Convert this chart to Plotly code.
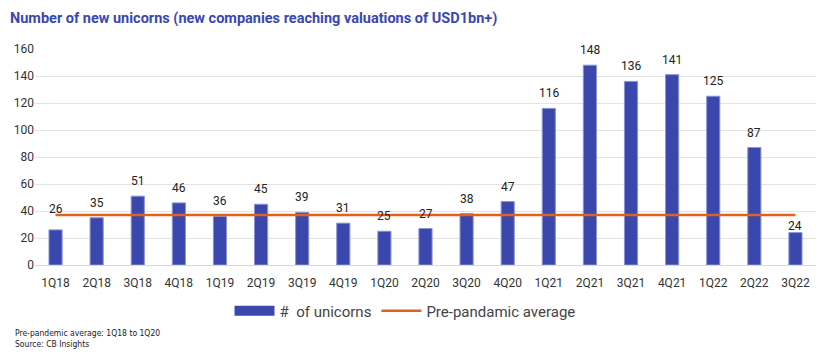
import plotly.graph_objects as go

quarters = ["1Q18", "2Q18", "3Q18", "4Q18", "1Q19", "2Q19", "3Q19", "4Q19", "1Q20", "2Q20",
            "3Q20", "4Q20", "1Q21", "2Q21", "3Q21", "4Q21", "1Q22", "2Q22", "3Q22"]
unicorns = [26, 35, 51, 46, 36, 45, 39, 31, 25, 27, 38, 47, 116, 148, 136, 141, 125, 87, 24]
pre_pandemic_avg = [37] * len(quarters)

# label nudges (styling only, pixels)
label_nudge = {"1Q18": 6, "3Q22": -8}

W, H = 831, 361
L, R, T, B = 35, 15, 49, 96
pw, ph = W - L - R, H - T - B
BAR_COLOR = "#3a48ad"

fig = go.Figure()
fig.add_trace(go.Bar(
    x=quarters, y=unicorns, name="#  of unicorns", showlegend=False,
    marker=dict(color=BAR_COLOR, line=dict(color="#8a93d6", width=1)),
))
# legend swatch for the bars (wide block like the original)
fig.add_trace(go.Scatter(
    x=[quarters[0]], y=[None], name="#  of unicorns", mode="lines",
    line=dict(color=BAR_COLOR, width=10), hoverinfo="skip",
))
fig.add_trace(go.Scatter(
    x=quarters, y=pre_pandemic_avg, name="Pre-pandamic average", mode="lines",
    line=dict(color="#e0621f", width=2.5),
))

annotations = [
    dict(x=q, y=v, text=str(v), xref="x", yref="y", showarrow=False,
         yanchor="bottom", yshift=6 + label_nudge.get(q, 0),
         font=dict(family="Roboto", size=12, color="#222222"))
    for q, v in zip(quarters, unicorns)
]
for i, line in enumerate(["Pre-pandemic average: 1Q18 to 1Q20", "Source: CB Insights"]):
    annotations.append(
        dict(text=line, xref="paper", yref="paper", x=-22 / pw, y=-(333 - 265 + i * 11) / ph,
             xanchor="left", yanchor="middle", align="left", showarrow=False,
             font=dict(family="DejaVu Sans Condensed", size=8.5, color="#222222"))
    )

fig.update_layout(
    width=W, height=H,
    margin=dict(l=L, r=R, t=T, b=B, autoexpand=False),
    paper_bgcolor="white", plot_bgcolor="white",
    bargap=0.68,
    font=dict(family="Roboto", color="#333333"),
    title=dict(text="<b>Number of new unicorns (new companies reaching valuations of USD1bn+)</b>",
               x=10 / W, xanchor="left", xref="container",
               y=1 - 18 / H, yanchor="middle", yref="container", automargin=False,
               font=dict(family="Roboto", size=14.5, color="#3a47b0")),
    showlegend=True,
    legend=dict(orientation="h", x=(405 - L) / pw, xanchor="center", y=-46 / ph, yanchor="middle",
                font=dict(family="Roboto", size=15, color="#444444"),
                itemwidth=40, traceorder="normal"),
    xaxis=dict(showgrid=False, tickfont=dict(size=12, color="#333333"), ticks="",
               showline=False, automargin=False, ticklabelstandoff=9),
    yaxis=dict(range=[0, 160], dtick=20, showgrid=True, gridcolor="#e3e3e3", gridwidth=1,
               zeroline=True, zerolinecolor="#d9d9d9", zerolinewidth=1, automargin=False,
               tickfont=dict(size=12, color="#333333"), ticks="", ticklen=0),
    annotations=annotations,
)

fig.write_html("out.html", post_script="document.body.style.margin='0';",
               config={"displayModeBar": False})
